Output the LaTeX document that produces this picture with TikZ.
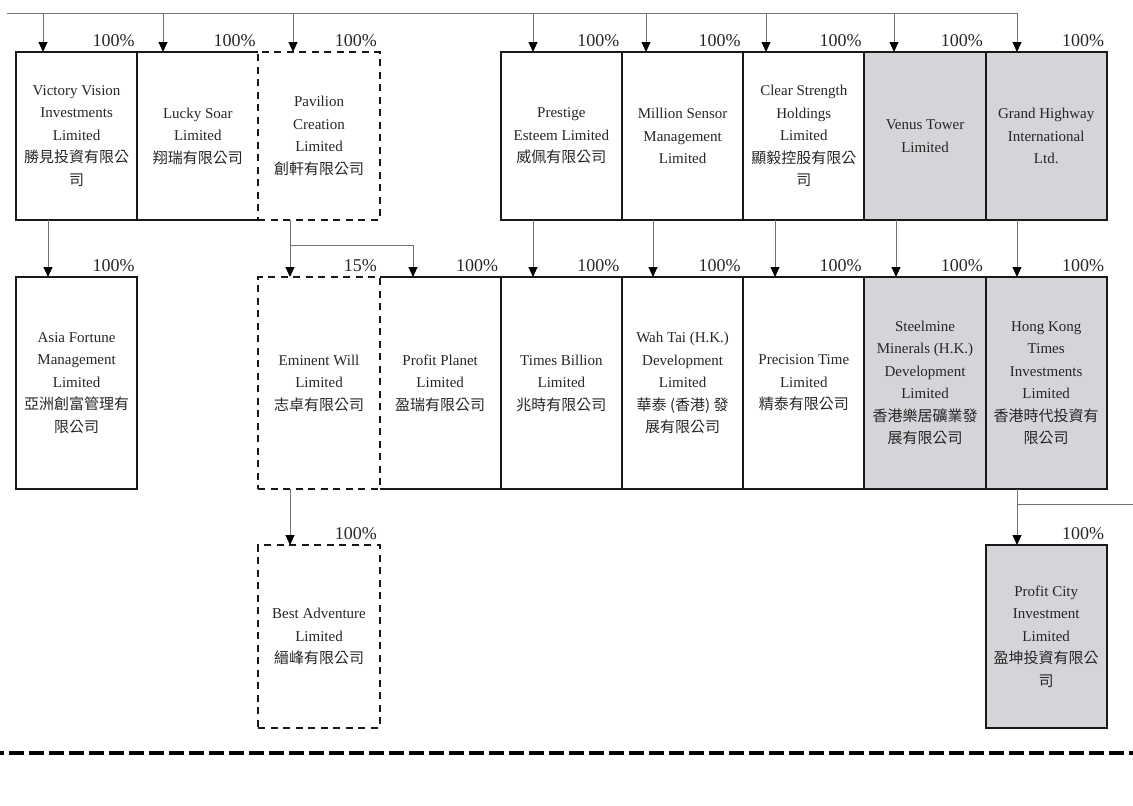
\documentclass[tikz,border=0pt]{standalone}
\usepackage{fontspec}
\setmainfont{Liberation Serif}
\newfontfamily\cjk{Noto Sans CJK TC}
\usetikzlibrary{arrows.meta}
\definecolor{firmgray}{RGB}{212,213,216}

\begin{document}
\begin{tikzpicture}[x=1pt,y=-1pt,
    firm/.style={draw=black!90,line width=2pt,minimum width=121.2pt,inner sep=0pt,outer sep=0pt,
      align=center,anchor=north west,text=black!85,font=\fontsize{15}{22.5}\selectfont},
    firmdash/.style={firm,dash pattern=on 7pt off 5.5pt},
    firmgray/.style={firm,fill=firmgray},
    firmopen/.style={firm,draw=none},
    toprow/.style={minimum height=168pt},
    midrow/.style={minimum height=212pt},
    lowrow/.style={minimum height=183pt},
    pct/.style={anchor=base east,inner sep=0pt,text=black!85,font=\fontsize{18}{20}\selectfont},
    wire/.style={draw=black!55,line width=0.9pt},
    link/.style={wire,-{Triangle[width=9pt,length=10pt,color=black]}},
    sep/.style={line width=4pt,dash pattern=on 15pt off 5pt,dash phase=11pt}]
          \useasboundingbox (0,0) rectangle (1133,806);

          % top row
          \node[firm,toprow] (vic) at (16,52) {Victory Vision\\Investments\\Limited\\{\cjk 勝見投資有限公}\\{\cjk 司}};
          \node[firmopen,toprow] (luc) at (137.2,52) {Lucky Soar\\Limited\\{\cjk 翔瑞有限公司}};
          \node[firmdash,toprow] (pav) at (258.4,52) {Pavilion\\Creation\\Limited\\{\cjk 創軒有限公司}};
          \node[firm,toprow] (pre) at (500.8,52) {Prestige\\Esteem Limited\\{\cjk 威佩有限公司}};
          \node[firm,toprow] (mil) at (622,52) {Million Sensor\\Management\\Limited};
          \node[firm,toprow] (cle) at (743.2,52) {Clear Strength\\Holdings\\Limited\\{\cjk 顯毅控股有限公}\\{\cjk 司}};
          \node[firmgray,toprow] (ven) at (864.4,52) {Venus Tower\\Limited};
          \node[firmgray,toprow] (gra) at (985.6,52) {Grand Highway\\International\\Ltd.};
          \draw[line width=2pt,black!90] (luc.north east) -- (luc.north west) -- (luc.south west) -- (luc.south east);

          % middle row
          \node[firm,midrow] (asi) at (16,277) {Asia Fortune\\Management\\Limited\\{\cjk 亞洲創富管理有}\\{\cjk 限公司}};
          \node[firmopen,midrow] (pla) at (379.6,277) {Profit Planet\\Limited\\{\cjk 盈瑞有限公司}};
          \node[firmdash,midrow] (emi) at (258.4,277) {Eminent Will\\Limited\\{\cjk 志卓有限公司}};
          \node[firm,midrow] (tim) at (500.8,277) {Times Billion\\Limited\\{\cjk 兆時有限公司}};
          \node[firm,midrow] (wah) at (622,277) {Wah Tai (H.K.)\\Development\\Limited\\{\cjk 華泰 (香港) 發}\\{\cjk 展有限公司}};
          \node[firm,midrow] (prc) at (743.2,277) {Precision Time\\Limited\\{\cjk 精泰有限公司}};
          \node[firmgray,midrow] (ste) at (864.4,277) {Steelmine\\Minerals (H.K.)\\Development\\Limited\\{\cjk 香港樂居礦業發}\\{\cjk 展有限公司}};
          \node[firmgray,midrow] (hkt) at (985.6,277) {Hong Kong\\Times\\Investments\\Limited\\{\cjk 香港時代投資有}\\{\cjk 限公司}};
          \draw[line width=2pt,black!90] (pla.north west) -- (pla.north east) -- (pla.south east) -- (pla.south west);

          % bottom row
          \node[firmdash,lowrow] (bes) at (258.4,545) {Best Adventure\\Limited\\{\cjk 縉峰有限公司}};
          \node[firmgray,lowrow] (cit) at (985.6,545) {Profit City\\Investment\\Limited\\{\cjk 盈坤投資有限公}\\{\cjk 司}};

          % shares
          \node[pct] (pvic) at ([xshift=-2.5pt,yshift=6pt]vic.north east) {100\%};
          \node[pct] (pluc) at ([xshift=-2.5pt,yshift=6pt]luc.north east) {100\%};
          \node[pct] (ppav) at ([xshift=-2.5pt,yshift=6pt]pav.north east) {100\%};
          \node[pct] (ppre) at ([xshift=-2.5pt,yshift=6pt]pre.north east) {100\%};
          \node[pct] (pmil) at ([xshift=-2.5pt,yshift=6pt]mil.north east) {100\%};
          \node[pct] (pcle) at ([xshift=-2.5pt,yshift=6pt]cle.north east) {100\%};
          \node[pct] (pven) at ([xshift=-2.5pt,yshift=6pt]ven.north east) {100\%};
          \node[pct] (pgra) at ([xshift=-2.5pt,yshift=6pt]gra.north east) {100\%};
          \node[pct] (pasi) at ([xshift=-2.5pt,yshift=6pt]asi.north east) {100\%};
          \node[pct] (pemi) at ([xshift=-2.5pt,yshift=6pt]emi.north east) {15\%};
          \node[pct] (ppla) at ([xshift=-2.5pt,yshift=6pt]pla.north east) {100\%};
          \node[pct] (ptim) at ([xshift=-2.5pt,yshift=6pt]tim.north east) {100\%};
          \node[pct] (pwah) at ([xshift=-2.5pt,yshift=6pt]wah.north east) {100\%};
          \node[pct] (pprc) at ([xshift=-2.5pt,yshift=6pt]prc.north east) {100\%};
          \node[pct] (pste) at ([xshift=-2.5pt,yshift=6pt]ste.north east) {100\%};
          \node[pct] (phkt) at ([xshift=-2.5pt,yshift=6pt]hkt.north east) {100\%};
          \node[pct] (pbes) at ([xshift=-2.5pt,yshift=6pt]bes.north east) {100\%};
          \node[pct] (pcit) at ([xshift=-2.5pt,yshift=6pt]cit.north east) {100\%};

          % links from the top line
          \coordinate (t0) at (7,13);
          \coordinate (t1) at (43,13);
          \coordinate (t2) at (163,13);
          \coordinate (t3) at (293,13);
          \coordinate (t4) at (533,13);
          \coordinate (t5) at (646,13);
          \coordinate (t6) at (766,13);
          \coordinate (t7) at (894,13);
          \coordinate (t8) at (1017,13);
          \draw[wire] (t0) -- (t8);
          \draw[link] (t1) -- (t1 |- vic.north);
          \draw[link] (t2) -- (t2 |- luc.north);
          \draw[link] (t3) -- (t3 |- pav.north);
          \draw[link] (t4) -- (t4 |- pre.north);
          \draw[link] (t5) -- (t5 |- mil.north);
          \draw[link] (t6) -- (t6 |- cle.north);
          \draw[link] (t7) -- (t7 |- ven.north);
          \draw[link] (t8) -- (t8 |- gra.north);

          % links to the middle row
          \coordinate (m1) at (48,220);
          \coordinate (m2) at (290,220);
          \coordinate (m2a) at (290,245);
          \coordinate (m2b) at (413,245);
          \coordinate (m3) at (533,220);
          \coordinate (m4) at (653,220);
          \coordinate (m5) at (775,220);
          \coordinate (m6) at (896,220);
          \coordinate (m7) at (1017,220);
          \draw[link] (m1) -- (m1 |- asi.north);
          \draw[link] (m2) -- (m2 |- emi.north);
          \draw[link] (m2a) -- (m2b) -- (m2b |- pla.north);
          \draw[link] (m3) -- (m3 |- tim.north);
          \draw[link] (m4) -- (m4 |- wah.north);
          \draw[link] (m5) -- (m5 |- prc.north);
          \draw[link] (m6) -- (m6 |- ste.north);
          \draw[link] (m7) -- (m7 |- hkt.north);

          % links to the bottom row
          \coordinate (b1) at (290,489);
          \coordinate (b2) at (1017,489);
          \coordinate (b2a) at (1017,504);
          \coordinate (b2b) at (1133,504);
          \draw[link] (b1) -- (b1 |- bes.north);
          \draw[link] (b2) -- (b2 |- cit.north);
          \draw[wire] (b2a) -- (b2b);

          % separator
          \coordinate (s0) at (0,753);
          \coordinate (s1) at (1133,753);
          \draw[sep] (s0) -- (s1);
        \end{tikzpicture}
\end{document}
